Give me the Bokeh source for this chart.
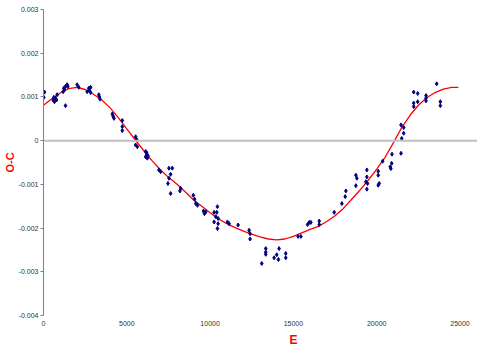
from bokeh.plotting import figure
from bokeh.models import Span, FixedTicker, CustomJSTickFormatter, Title
from bokeh.embed import file_html
from bokeh.resources import INLINE

# observed O-C values
obs_E = [20, 60, 580, 620, 660, 720, 780, 820,
         1180, 1220, 1260, 1320, 1320, 1420, 1460, 2020, 2120,
         2620, 2720, 2760, 2830, 2830, 3320, 3360, 3390,
         4130, 4180, 4230, 4730, 4730, 4730,
         5530, 5590, 5530, 5630, 6130, 6190, 6270, 6130, 6200, 6230,
         6930, 7030, 7530, 7730, 7630, 7530, 7470, 7630, 8230, 8190,
         8990, 9070, 9140, 9240, 9600, 9740, 9660,
         10240, 10400, 10440, 10340, 10480, 10240, 10480, 10440,
         11040, 11140, 11680, 12340, 12400, 12400,
         13100, 13340, 13340, 13340, 13840, 14000, 14100, 14140, 14540, 14540,
         15280, 15450, 15850, 15950, 16050, 16550, 16550,
         17450, 17910, 18110, 18150,
         18750, 18810, 18750, 19410, 19410, 19350, 19450, 19410,
         20090, 20090, 20150, 20090, 20360, 20810, 20850, 20900, 20920,
         21460, 21460, 21620, 21620, 21500,
         22220, 22460, 22220, 22460, 22220, 22960, 22960, 22960,
         23600, 23820, 23820]
obs_OC = [0.00099, 0.00111, 0.00093, 0.00099, 0.00089, 0.00097, 0.00093, 0.00105,
          0.00112, 0.00120, 0.00116, 0.00124, 0.00080, 0.00128, 0.00124, 0.00128, 0.00122,
          0.00112, 0.00120, 0.00116, 0.00122, 0.00110, 0.00105, 0.00100, 0.00095,
          0.00061, 0.00056, 0.00051, 0.00046, 0.00032, 0.00023,
          0.00009, 0.00003, -0.00010, -0.00014, -0.00025, -0.00028, -0.00035, -0.00037, -0.00031, -0.00040,
          -0.00067, -0.00071, -0.00063, -0.00063, -0.00077, -0.00086, -0.00098, -0.00121, -0.00109, -0.00115,
          -0.00125, -0.00134, -0.00144, -0.00148, -0.00161, -0.00163, -0.00167,
          -0.00164, -0.00164, -0.00151, -0.00174, -0.00178, -0.00186, -0.00190, -0.00201,
          -0.00186, -0.00190, -0.00193, -0.00205, -0.00213, -0.00225,
          -0.00281, -0.00247, -0.00255, -0.00260, -0.00268, -0.00261, -0.00272, -0.00247, -0.00258, -0.00268,
          -0.00219, -0.00219, -0.00192, -0.00187, -0.00187, -0.00184, -0.00192,
          -0.00164, -0.00144, -0.00128, -0.00115,
          -0.00079, -0.00086, -0.00103, -0.00067, -0.00083, -0.00094, -0.00098, -0.00111,
          -0.00070, -0.00079, -0.00098, -0.00102, -0.00047, -0.00060, -0.00064, -0.00052, -0.00031,
          -0.00029, 0.00036, 0.00030, 0.00017, 0.00005,
          0.00111, 0.00108, 0.00086, 0.00089, 0.00078, 0.00103, 0.00097, 0.00091,
          0.00130, 0.00089, 0.00080]

# fitted curve
fit_E = [0, 500, 1000, 1500, 2000, 2500, 3000, 3500, 4000, 4500, 5000, 5500, 6000,
         6500, 7000, 7500, 8000, 8500, 9000, 9500, 10000, 10500, 11000, 11500, 12000,
         12500, 13000, 13500, 14000, 14500, 15000, 15500, 16000, 16500, 17000, 17500,
         18000, 18500, 19000, 19500, 20000, 20500, 21000, 21500, 22000, 22500, 23000,
         23500, 24000, 24500, 24900]
fit_OC = [0.00081, 0.00096, 0.00109, 0.00119, 0.00122, 0.00117, 0.00106, 0.00093,
          0.00075, 0.00052, 0.00027, 0.00002, -0.00022,
          -0.00045, -0.00066, -0.00084, -0.00099, -0.00117, -0.00135, -0.00150, -0.00165,
          -0.00179, -0.00190, -0.00199, -0.00207,
          -0.00214, -0.00220, -0.00225, -0.00227, -0.00225, -0.00219, -0.00211, -0.00203,
          -0.00196, -0.00185, -0.00172,
          -0.00155, -0.00134, -0.00113, -0.00090, -0.00065, -0.00038, -0.00005, 0.00030,
          0.00058, 0.00081, 0.00098, 0.00110, 0.00118, 0.00122, 0.00122]

y_ticks = [0.003, 0.002, 0.001, 0.0, -0.001, -0.002, -0.003, -0.004]
y_labels = ["0.003", "0.002", "0.001", "0", "-0.001", "-0.002", "-0.003", "-0.004"]
x_ticks = [0, 5000, 10000, 15000, 20000, 25000]
x_labels = ["0", "5000", "10000", "15000", "20000", "25000"]

p = figure(width=477, height=348, x_range=(0, 26050), y_range=(-0.004, 0.003),
           output_backend="svg", toolbar_location=None,
           min_border_left=43, min_border_right=0, min_border_top=9, min_border_bottom=0)
p.grid.visible = False
p.outline_line_color = None
p.background_fill_color = "white"
p.border_fill_color = "white"

p.add_layout(Span(location=0, dimension="width", line_color="#c0c0c0", line_width=2))

p.line(fit_E, fit_OC, line_color="#ff0000", line_width=1.3)
p.scatter(obs_E, obs_OC, marker="diamond", size=4, fill_color="#000080", line_color="#000080")

fmt_code = """
let best = 0, bd = 1e9;
for (let i = 0; i < tv.length; i++) { const d = Math.abs(tv[i] - tick); if (d < bd) { bd = d; best = i; } }
return tl[best];
"""
ya = p.yaxis[0]
ya.ticker = FixedTicker(ticks=y_ticks)
ya.formatter = CustomJSTickFormatter(args=dict(tv=y_ticks, tl=y_labels), code=fmt_code)
ya.axis_line_color = "#808080"
ya.major_tick_line_color = "#808080"
ya.major_tick_out = 3
ya.major_tick_in = 0
ya.minor_tick_line_color = None
ya.major_label_standoff = 2
ya.major_label_text_font = "Liberation Sans"
ya.major_label_text_font_size = "7px"
ya.major_label_text_color = "#333333"
ya.axis_label = "O-C"
ya.axis_label_text_color = "#ff0000"
ya.axis_label_text_font = "Liberation Sans"
ya.axis_label_text_font_style = "bold"
ya.axis_label_text_font_size = "11px"
ya.axis_label_standoff = 0

xa = p.xaxis[0]
xa.ticker = FixedTicker(ticks=x_ticks)
xa.formatter = CustomJSTickFormatter(args=dict(tv=x_ticks, tl=x_labels), code=fmt_code)
xa.axis_line_color = None
xa.major_tick_line_color = None
xa.minor_tick_line_color = None
xa.major_tick_out = 0
xa.major_label_standoff = 5
xa.major_label_text_font = "Liberation Sans"
xa.major_label_text_font_size = "7px"
xa.major_label_text_color = "#333333"

p.add_layout(Title(text="E", align="left", offset=246, text_color="#ff0000",
                   text_font="Liberation Sans", text_font_style="bold", text_font_size="12px",
                   standoff=4), "below")

open("out.html", "w").write(file_html(p, INLINE))
